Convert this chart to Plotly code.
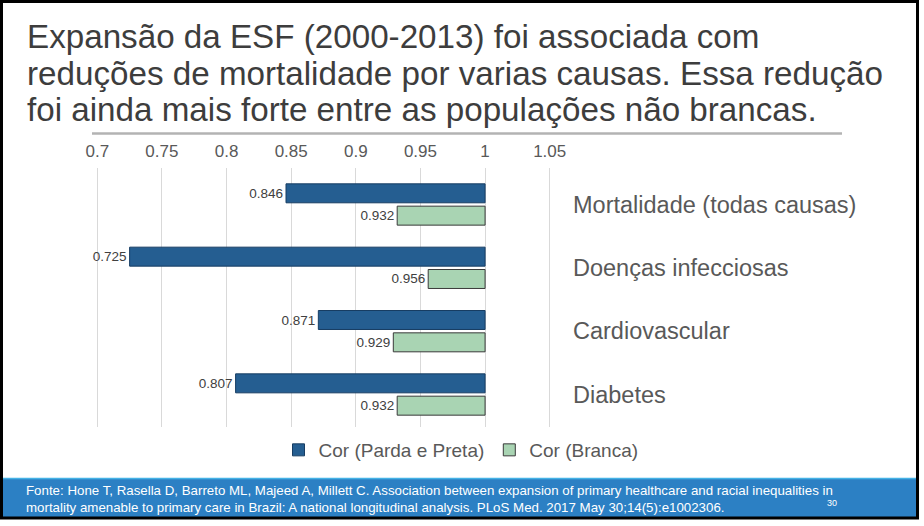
import plotly.graph_objects as go

# ---- data ----
categories = ["Mortalidade (todas causas)", "Doenças infecciosas", "Cardiovascular", "Diabetes"]
parda_preta = [0.846, 0.725, 0.871, 0.807]
branca = [0.932, 0.956, 0.929, 0.932]
reference = 1.0
tick_vals = [0.7, 0.75, 0.8, 0.85, 0.9, 0.95, 1.0, 1.05]
tick_text = ["0.7", "0.75", "0.8", "0.85", "0.9", "0.95", "1", "1.05"]
title_lines = [
    "Expansão da ESF (2000-2013) foi associada com",
    "reduções de mortalidade por varias causas. Essa redução",
    "foi ainda mais forte entre as populações não brancas.",
]
footer_lines = [
    "Fonte: Hone T, Rasella D, Barreto ML, Majeed A, Millett C. Association between expansion of primary healthcare and racial inequalities in",
    "mortality amenable to primary care in Brazil: A national longitudinal analysis. PLoS Med. 2017 May 30;14(5):e1002306.",
]
slide_number = "30"

# ---- layout geometry (pixels) ----
W, H = 924, 526
L, R, T, B = 96, 373, 168, 99
PW, PH = W - L - R, H - T - B


def px(x):
    return (x - L) / PW


def py(y):
    return (H - B - y) / PH


FONT = "Liberation Sans, Arial, sans-serif"

fig = go.Figure()
fig.add_trace(go.Bar(
    name="Cor (Parda e Preta)", y=categories,
    x=[v - reference for v in parda_preta], base=reference, orientation="h",
    text=[f"{v:.3f}" for v in parda_preta], textposition="outside",
    textfont=dict(size=13.5, color="#404040", family=FONT),
    marker=dict(color="#255e91", line=dict(color="#173d63", width=1)),
    cliponaxis=False,
))
fig.add_trace(go.Bar(
    name="Cor (Branca)", y=categories,
    x=[v - reference for v in branca], base=reference, orientation="h",
    text=[f"{v:.3f}" for v in branca], textposition="outside",
    textfont=dict(size=13.5, color="#404040", family=FONT),
    marker=dict(color="#a9d4b3", line=dict(color="#3a3a3a", width=1)),
    cliponaxis=False,
))

annotations = []
for line, yc in zip(title_lines, [37, 73, 109]):
    annotations.append(dict(
        text=line, xref="paper", yref="paper", x=px(25), y=py(yc),
        xanchor="left", yanchor="middle", showarrow=False,
        font=dict(size=33.2, color="#3d3d3d", family=FONT),
    ))
for line, yc in zip(footer_lines, [490, 507]):
    annotations.append(dict(
        text=line, xref="paper", yref="paper", x=px(24), y=py(yc),
        xanchor="left", yanchor="middle", showarrow=False,
        font=dict(size=13.3, color="#ffffff", family=FONT),
    ))
annotations.append(dict(
    text=slide_number, xref="paper", yref="paper", x=px(832), y=py(503),
    xanchor="center", yanchor="middle", showarrow=False,
    font=dict(size=9, color="#ffffff", family=FONT),
))

shapes = [
    # footer band
    dict(type="rect", xref="paper", yref="paper", x0=px(3), x1=px(917), y0=py(517), y1=py(478),
         fillcolor="#2c80c4", line=dict(width=0), layer="below"),
    dict(type="line", xref="paper", yref="paper", x0=px(3), x1=px(917), y0=py(478.5), y1=py(478.5),
         line=dict(color="#45b2e6", width=1.5)),
    # title underline
    dict(type="line", xref="paper", yref="paper", x0=px(92), x1=px(842), y0=py(133.5), y1=py(133.5),
         line=dict(color="#b3b3b3", width=2.5)),
    # slide border
    dict(type="rect", xref="paper", yref="paper", x0=px(1.5), x1=px(917.5), y0=py(518), y1=py(1.5),
         line=dict(color="#000000", width=3), fillcolor="rgba(0,0,0,0)"),
]

fig.update_layout(
    width=W, height=H,
    margin=dict(l=L, r=R, t=T, b=B, autoexpand=False),
    paper_bgcolor="white", plot_bgcolor="white",
    barmode="group", bargap=0.295, bargroupgap=0.15,
    font=dict(family=FONT, color="#595959"),
    showlegend=True,
    legend=dict(orientation="h", x=px(461), xanchor="center", y=py(450), yanchor="middle",
                font=dict(size=19, color="#595959", family=FONT), traceorder="normal",
                bgcolor="rgba(0,0,0,0)"),
    annotations=annotations, shapes=shapes,
)
fig.update_xaxes(
    range=[0.699, 1.051], side="top", tickvals=tick_vals, ticktext=tick_text,
    showgrid=True, gridcolor="#d9d9d9", gridwidth=1, zeroline=False, showline=False,
    ticks="", ticklabelstandoff=7, tickfont=dict(size=17, color="#595959", family=FONT),
)
fig.update_yaxes(
    type="category", categoryorder="array", categoryarray=categories,
    range=[3.513, -0.576], side="right", showgrid=False, zeroline=False, showline=False,
    ticks="", ticklabelstandoff=21,
    tickfont=dict(size=23.5, color="#595959", family=FONT),
)

fig.write_html("out.html")
